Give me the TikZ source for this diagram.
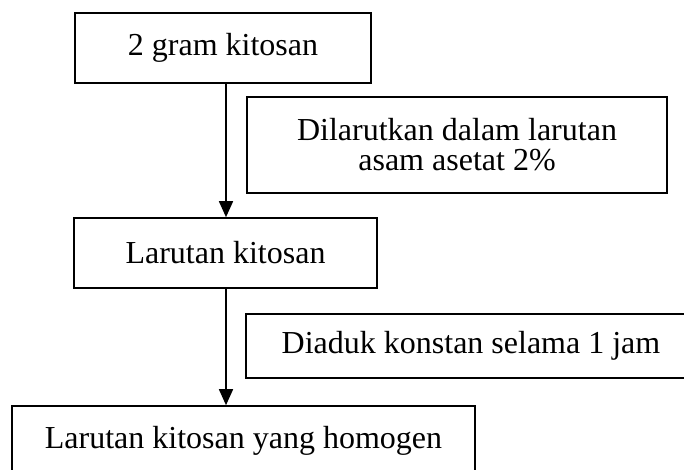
\documentclass[tikz,border=0pt]{standalone}
\usepackage{fontspec}
\setmainfont{Liberation Serif}
\usetikzlibrary{arrows.meta}
\begin{document}
\begin{tikzpicture}[x=1pt,y=-1pt,
  boxnode/.style={draw,line width=1.6pt,inner sep=0pt,align=center,
    font=\fontsize{32}{30}\selectfont},
  arr/.style={line width=1.6pt,-{Triangle[width=14pt,length=16pt]}}]
\useasboundingbox (0,0) rectangle (684,470);
\node[boxnode,minimum width=296pt,minimum height=70pt] (b1) at (223,48) {2 gram kitosan};
\node[boxnode,minimum width=420pt,minimum height=96pt] (b2) at (457,145) {Dilarutkan dalam larutan\\asam asetat 2\%};
\node[boxnode,minimum width=303pt,minimum height=70pt] (b3) at (225.5,253) {Larutan kitosan};
\node[boxnode,minimum width=450pt,minimum height=64pt] (b4) at (471,346) {Diaduk konstan selama 1 jam};
\node[boxnode,minimum width=463pt,minimum height=70pt] (b5) at (243.5,441) {Larutan kitosan yang homogen};
\coordinate (ax) at (226,0);
\draw[arr] (ax |- b1.south) -- (ax |- b3.north);
\draw[arr] (ax |- b3.south) -- (ax |- b5.north);
\end{tikzpicture}
\end{document}
